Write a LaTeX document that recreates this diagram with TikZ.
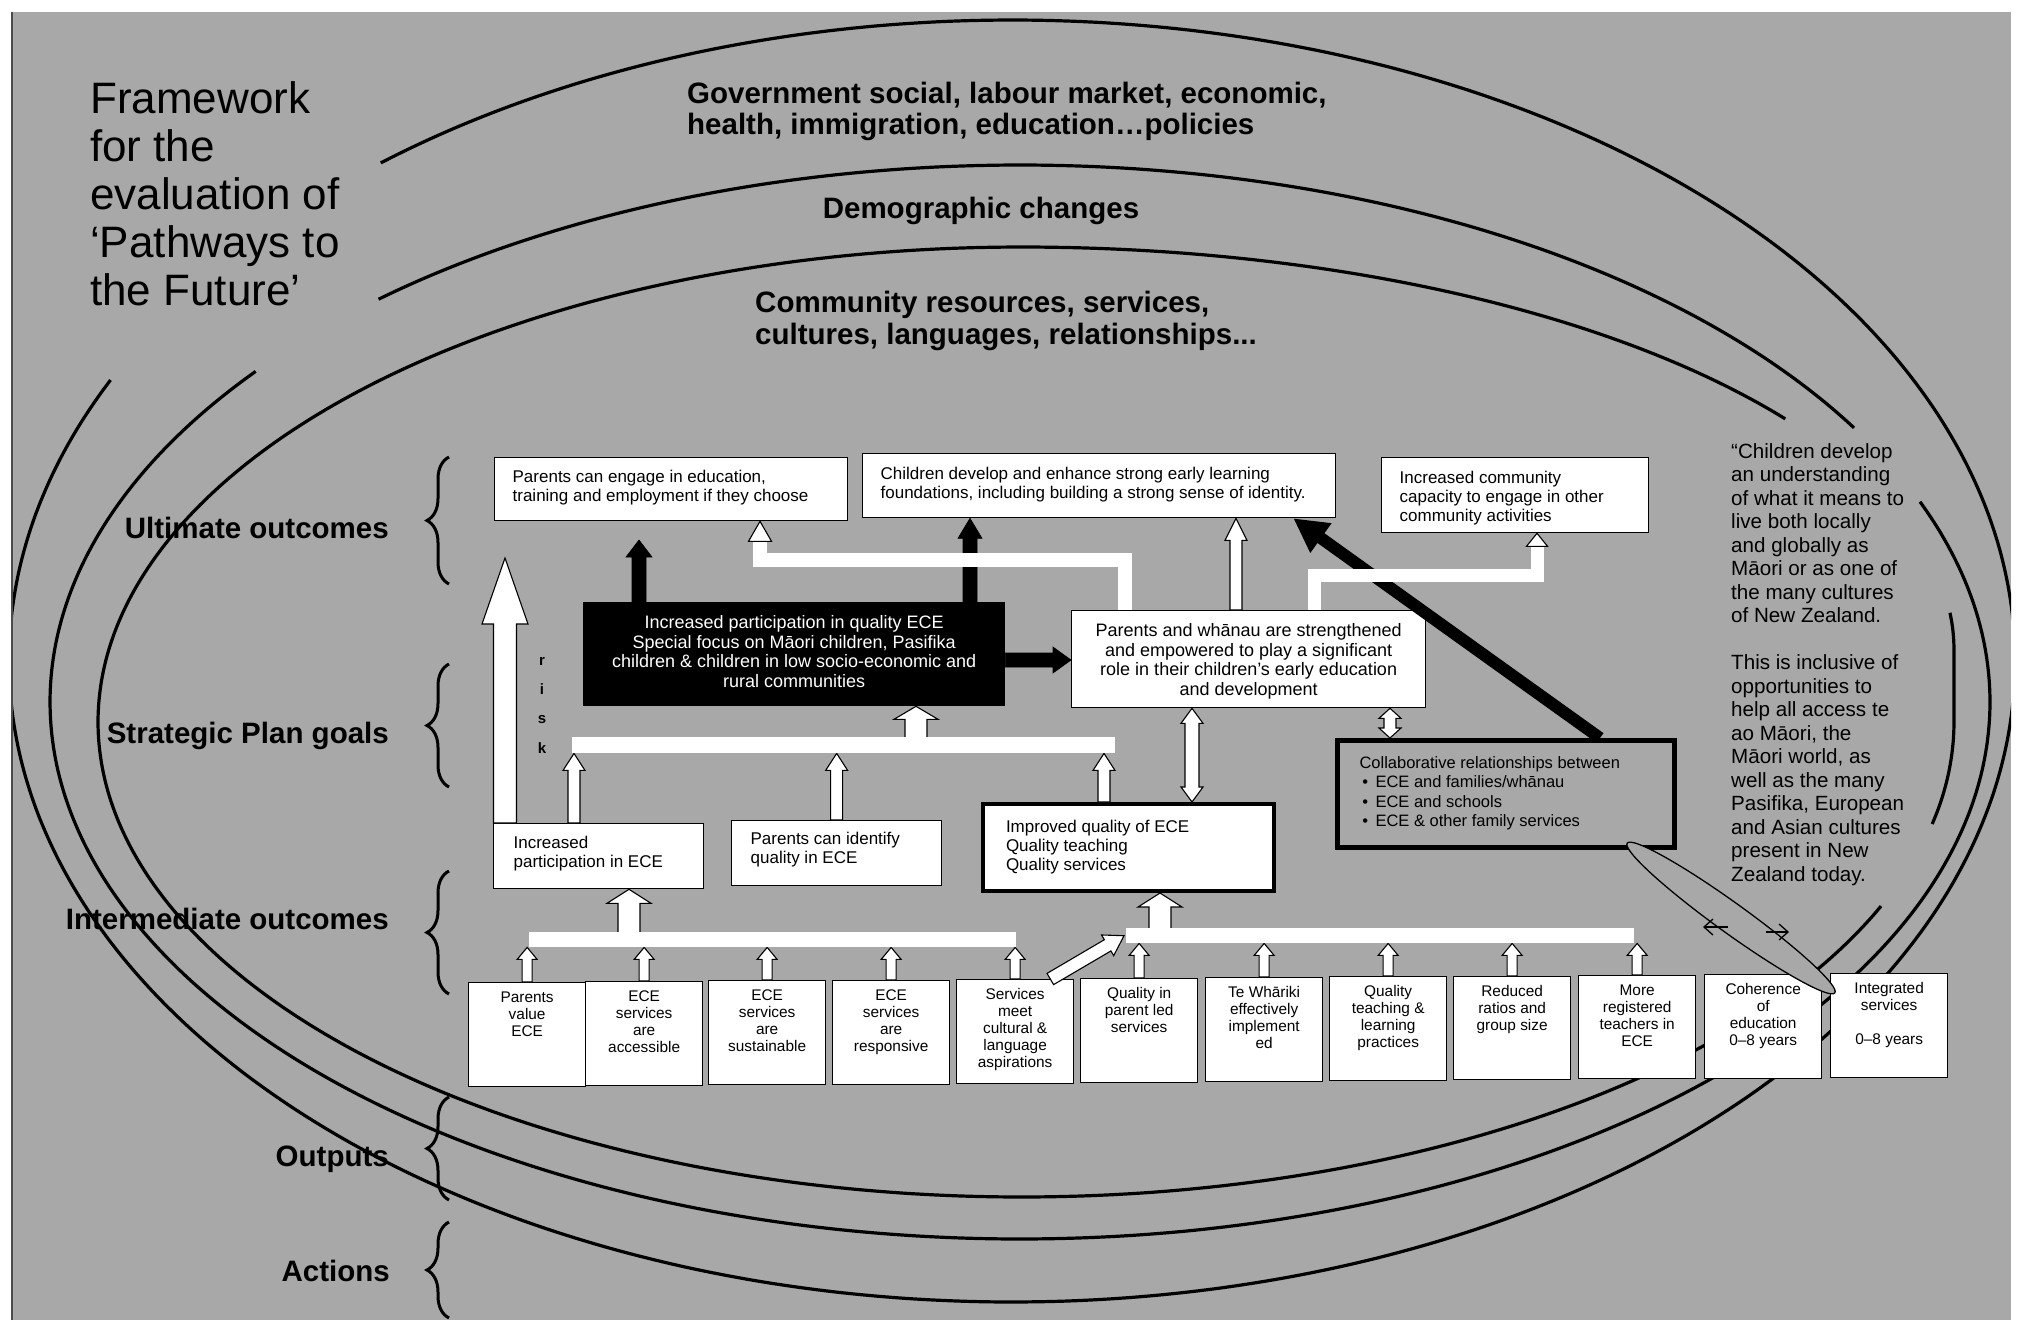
\documentclass[tikz,border=0pt]{standalone}
\usepackage{fontspec}
\setmainfont{Liberation Sans}
\usetikzlibrary{calc,decorations.pathreplacing,arrows.meta}
\definecolor{bg}{gray}{0.66}
\newcommand{\fsz}[2]{\fontsize{#1pt}{#2pt}\selectfont}
\newcommand{\blkarrow}[6]{%
  \path[#1] ($(#2)!#4!90:(#3)$) -- ($(#3)!#6!(#2)!#4!-90:(#2)$)
    -- ($(#3)!#6!(#2)!#5!-90:(#2)$) -- (#3)
    -- ($(#3)!#6!(#2)!#5!90:(#2)$) -- ($(#3)!#6!(#2)!#4!90:(#2)$)
    -- ($(#2)!#4!-90:(#3)$) -- cycle;}
\newcommand{\dblarrow}[6]{%
  \path[#1] (#2) -- ($(#2)!#6!(#3)!#5!90:(#3)$) -- ($(#2)!#6!(#3)!#4!90:(#3)$)
    -- ($(#3)!#6!(#2)!#4!-90:(#2)$) -- ($(#3)!#6!(#2)!#5!-90:(#2)$) -- (#3)
    -- ($(#3)!#6!(#2)!#5!90:(#2)$) -- ($(#3)!#6!(#2)!#4!90:(#2)$)
    -- ($(#2)!#6!(#3)!#4!-90:(#3)$) -- ($(#2)!#6!(#3)!#5!-90:(#3)$) -- cycle;}
\newcommand{\arrhead}[5]{%
  \path[#1] ($(#3)!#5!(#2)!#4!-90:(#2)$) -- (#3) -- ($(#3)!#5!(#2)!#4!90:(#2)$) -- cycle;}
\newcommand{\bxt}[5]{\parbox[c][#2][t]{#1}{\vspace*{#3}#4#5}}
\tikzset{
  ecurve/.style={line width=3.2pt, black},
  wbox/.style={draw=black, fill=white, line width=1.3pt, inner sep=0pt, anchor=north west},
  ufont/.style={font=\fsz{17}{19}},
  bfont/.style={font=\fsz{15.4}{17}},
  lab/.style={font=\bfseries\fsz{29.5}{32}, anchor=base east, inner sep=0pt},
  brc/.style={decorate, decoration={brace, amplitude=22pt}, line width=3pt},
  warr/.style={fill=white, draw=black, line width=1.1pt, line join=miter},
  barr/.style={fill=black, draw=black, line width=0.6pt, line join=miter},
  wbar/.style={fill=white, inner sep=0pt, anchor=north west},
  wline/.style={draw=white, line width=14pt, line join=miter},
  rk/.style={font=\bfseries\fsz{15}{15}, anchor=base, inner sep=0pt},
}
\begin{document}
\begin{tikzpicture}[x=1pt,y=-1pt]
\useasboundingbox (0,0) rectangle (2018,1320);
\fill[white] (0,0) rectangle (2018,1320);
\fill[bg] (11,12) rectangle (2011,1320);

% context ellipses
\begin{scope}
\clip (11,12) rectangle (2011,1320);
\draw[ecurve] plot[domain=231:566, samples=260, smooth] ({1012+1003*cos(\x)},{661+641*sin(\x)});
\draw[ecurve] plot[domain=228.6:329.3, samples=120, smooth] ({1020+970*cos(\x)},{702+537*sin(\x)});
\draw[ecurve] plot[domain=338.1:578, samples=220, smooth] ({1020+970*cos(\x)},{702+537*sin(\x)});
\draw[ecurve] plot[domain=90:270, samples=130, smooth] ({1021+923*cos(\x)},{722+475*sin(\x)})
  -- plot[domain=270:325, samples=50, smooth] ({1021+933*cos(\x)},{650+403*sin(\x)});
\draw[ecurve] plot[domain=354.7:360, samples=8, smooth] ({1021+933*cos(\x)},{650+403*sin(\x)})
  -- plot[domain=0:12.4, samples=12, smooth] ({1021+933*cos(\x)},{722+475*sin(\x)});
\draw[ecurve] plot[domain=22.8:90, samples=60, smooth] ({1021+933*cos(\x)},{722+475*sin(\x)});
\end{scope}
\draw[line width=1.5pt, black!70] (12,12) -- (12,1320);

% titles and context texts
\node[anchor=north west, inner sep=0pt, align=left, font=\fsz{44}{48}] (title) at (90,81)
  {Framework\\for the\\evaluation of\\‘Pathways to\\the Future’};
\node[anchor=north west, inner sep=0pt, align=left, font=\bfseries\fsz{29.5}{31}] (gov) at (687,82)
  {Government social, labour market, economic,\\health, immigration, education…policies};
\node[anchor=base, inner sep=0pt, font=\bfseries\fsz{29.5}{31}] (demo) at (981,218) {Demographic changes};
\node[anchor=north west, inner sep=0pt, align=left, font=\bfseries\fsz{29.5}{32}] (comm) at (755,291)
  {Community resources, services,\\cultures, languages, relationships...};
\node[anchor=north west, inner sep=0pt, align=left, font=\fsz{20.6}{23.5}] (quote) at (1731,443)
  {“Children develop\\an understanding\\of what it means to\\live both locally\\and globally as\\Māori or as one of\\the many cultures\\of New Zealand.\\[23.5pt]This is inclusive of\\opportunities to\\help all access te\\ao Māori, the\\Māori world, as\\well as the many\\Pasifika, European\\and Asian cultures\\present in New\\Zealand today.};

% level labels and braces
\node[lab] (l1) at (389,538) {Ultimate outcomes};
\node[lab] (l2) at (389,743) {Strategic Plan goals};
\node[lab] (l3) at (389,929) {Intermediate outcomes};
\node[lab] (l4) at (389,1166) {Outputs};
\node[lab] (l5) at (390,1281) {Actions};
\draw[brc] (449,584) -- (449,457);
\draw[brc] (449,787) -- (449,664);
\draw[brc] (449,994) -- (449,871);
\draw[brc] (449,1200) -- (449,1097);
\draw[brc] (449,1318) -- (449,1222);

% upper boxes
\node[wbox, ufont] (pe) at (494,457) {\bxt{353pt}{63pt}{13pt}{\raggedright\leftskip=18pt\relax}{Parents can engage in education,\\training and employment if they choose}};
\node[wbox, ufont] (cd) at (862,453) {\bxt{473pt}{64pt}{13.5pt}{\raggedright\leftskip=18pt\relax}{Children develop and enhance strong early learning\\foundations, including building a strong sense of identity.}};
\node[wbox, ufont] (ic) at (1381,457) {\bxt{267pt}{75pt}{13.5pt}{\raggedright\leftskip=18pt\relax}{Increased community\\capacity to engage in other\\community activities}};
\node[wbox, fill=black, text=white, font=\fsz{18}{19.5}] (bk) at (583,602) {\bxt{421pt}{103pt}{13pt}{\centering}{Increased participation in quality ECE\\Special focus on Māori children, Pasifika\\children \& children in low socio-economic and\\rural communities}};
\node[wbox, font=\fsz{18}{19.5}] (pw) at (1071,610) {\bxt{354pt}{97pt}{13pt}{\centering}{Parents and whānau are strengthened\\and empowered to play a significant\\role in their children’s early education\\and development}};
\node[wbox, ufont] (ip) at (493,823) {\bxt{210pt}{65pt}{12.5pt}{\raggedright\leftskip=20pt\relax}{Increased\\participation in ECE}};
\node[wbox, ufont] (pi) at (731,820) {\bxt{210pt}{65pt}{11.5pt}{\raggedright\leftskip=19pt\relax}{Parents can identify\\quality in ECE}};
\node[wbox, ufont, line width=4pt] (iq) at (981,802) {\bxt{291pt}{87pt}{16.5pt}{\raggedright\leftskip=23pt\relax}{Improved quality of ECE\\Quality teaching\\Quality services}};
\node[wbox, fill=none, line width=5pt, font=\fsz{16.5}{19.5}] (cr) at (1335,738) {\bxt{337pt}{107pt}{16pt}{\raggedright\leftskip=22pt\relax}{Collaborative relationships between\\\makebox[16pt][l]{\,•}ECE and families/whānau\\\makebox[16pt][l]{\,•}ECE and schools\\\makebox[16pt][l]{\,•}ECE \& other family services}};

% bottom boxes
\node[wbox, bfont] (b1) at (468,982) {\bxt{117pt}{104pt}{9pt}{\centering}{Parents\\value\\ECE}};
\node[wbox, bfont] (b2) at (585,981) {\bxt{117pt}{104pt}{9pt}{\centering}{ECE\\services\\are\\accessible}};
\node[wbox, bfont] (b3) at (708,980) {\bxt{117pt}{104pt}{9pt}{\centering}{ECE\\services\\are\\sustainable}};
\node[wbox, bfont] (b4) at (832,980) {\bxt{117pt}{104pt}{9pt}{\centering}{ECE\\services\\are\\responsive}};
\node[wbox, bfont] (b5) at (956,979) {\bxt{117pt}{104pt}{9pt}{\centering}{Services\\meet\\cultural \&\\language\\aspirations}};
\node[wbox, bfont] (b6) at (1080,978) {\bxt{117pt}{104pt}{9pt}{\centering}{Quality in\\parent led\\services}};
\node[wbox, bfont] (b7) at (1205,977) {\bxt{117pt}{104pt}{9pt}{\centering}{Te Whāriki\\effectively\\implement\\ed}};
\node[wbox, bfont] (b8) at (1329,976) {\bxt{117pt}{104pt}{9pt}{\centering}{Quality\\teaching \&\\learning\\practices}};
\node[wbox, bfont] (b9) at (1453,976) {\bxt{117pt}{103pt}{9pt}{\centering}{Reduced\\ratios and\\group size}};
\node[wbox, bfont] (b10) at (1578,975) {\bxt{117pt}{103pt}{9pt}{\centering}{More\\registered\\teachers in\\ECE}};
\node[wbox, bfont] (b11) at (1704,974) {\bxt{117pt}{104pt}{9pt}{\centering}{Coherence\\of\\education\\0–8 years}};
\node[wbox, bfont] (b12) at (1830,973) {\bxt{117pt}{104pt}{9pt}{\centering}{Integrated\\services\\\mbox{}\\0–8 years}};

% white bars
\node[wbar, minimum width=543pt, minimum height=16pt] (bar1) at (572,737) {};
\node[wbar, minimum width=487pt, minimum height=15pt] (bar2) at (529,932) {};
\node[wbar, minimum width=508pt, minimum height=15pt] (bar3) at (1126,928) {};

% risk
\node[rk] (rr) at (542,665) {r};
\node[rk] (ri) at (542,694) {i};
\node[rk] (rs) at (542,723) {s};
\node[rk] (rkk) at (542,753) {k};

% coordinates for connectors
\coordinate (k1a) at (639,0 |- bk.north); \coordinate (k1b) at (639,540);
\coordinate (k2a) at (970,0 |- bk.north); \coordinate (k2b) at (970,0 |- cd.south);
\coordinate (k3a) at (bk.east |- 0,660); \coordinate (k3b) at (pw.west |- 0,660);
\coordinate (w1a) at (1236,0 |- pw.north); \coordinate (w1b) at (1236,0 |- cd.south);
\coordinate (e1a) at (1125,0 |- pw.north); \coordinate (e1b) at (760,0 |- pe.south);
\coordinate (e2a) at (1314,0 |- pw.north); \coordinate (e2b) at (1537,0 |- ic.south);
\coordinate (g1a) at (916,0 |- bar1.center); \coordinate (g1b) at (916,0 |- bk.south);
\coordinate (g2a) at (574,0 |- ip.north); \coordinate (g2b) at (574,0 |- bar1.south);
\coordinate (g3a) at (pi.north); \coordinate (g3b) at (pi.north |- bar1.south);
\coordinate (g4a) at (1104,0 |- iq.north); \coordinate (g4b) at (1104,0 |- bar1.south);
\coordinate (rka) at (505,0 |- ip.north); \coordinate (rkb) at (505,558);
\coordinate (d1a) at (1192,0 |- pw.south); \coordinate (d1b) at (1192,0 |- iq.north);
\coordinate (d2a) at (1390,0 |- pw.south); \coordinate (d2b) at (1390,0 |- cr.north);
\coordinate (h1a) at (629,0 |- bar2.center); \coordinate (h1b) at (629,0 |- ip.south);
\coordinate (h2a) at (1160,0 |- bar3.center); \coordinate (h2b) at (1160,0 |- iq.south);
\coordinate (sla) at ($(b5.north east)+(-24,0)$); \coordinate (slb) at ($(bar3.west)+(-2,0)$);
\coordinate (bda) at (1600,0 |- cr.north); \coordinate (bdb) at ($(cd.south east)+(-43,0)$);

% black arrows
\blkarrow{barr}{k1a}{k1b}{7pt}{13pt}{17pt}
\blkarrow{barr}{k2a}{k2b}{7pt}{12pt}{20pt}
\blkarrow{barr}{k3a}{k3b}{7pt}{13pt}{18pt}
\draw[line width=12pt, -{Triangle[length=34pt,width=34pt]}] (bda) -- (bdb);

% white arrows
\blkarrow{warr}{w1a}{w1b}{6pt}{11pt}{22pt}
\draw[wline] (e1a) -- (1125,560) -- (760,560) -- ($(e1b)+(0,20)$);
\arrhead{warr}{760,560}{e1b}{11.5pt}{20pt}
\draw[wline, line width=13pt] (e2a) -- (1314,575) -- (1537,575) -- ($(e2b)+(0,13)$);
\arrhead{warr}{1537,575}{e2b}{10.5pt}{13pt}
\blkarrow{warr}{g2a}{g2b}{6pt}{11pt}{17pt}
\blkarrow{warr}{g3a}{g3b}{6pt}{11pt}{17pt}
\blkarrow{warr}{g4a}{g4b}{6pt}{11pt}{17pt}
\blkarrow{warr}{rka}{rkb}{11.5pt}{23pt}{66pt}
\dblarrow{warr}{d1a}{d1b}{7pt}{11pt}{15pt}
\dblarrow{warr}{d2a}{d2b}{6pt}{11pt}{10pt}
\foreach \b in {b1,b2,b3,b4,b5}{
  \coordinate (t-\b) at (\b.north |- bar2.south);
  \blkarrow{warr}{\b.north}{t-\b}{5pt}{10pt}{12pt}
}
\foreach \b in {b6,b7,b8,b9,b10}{
  \coordinate (t-\b) at (\b.north |- bar3.south);
  \blkarrow{warr}{\b.north}{t-\b}{5pt}{10pt}{12pt}
}
\blkarrow{warr}{sla}{slb}{6.5pt}{12pt}{19pt}
\blkarrow{warr}{g1a}{g1b}{11pt}{22pt}{13pt}
\blkarrow{warr}{h1a}{h1b}{11pt}{22pt}{14pt}
\blkarrow{warr}{h2a}{h2b}{11pt}{22pt}{14pt}

% redraw bars over arrow bases
\fill[white] (bar1.north west) rectangle (bar1.south east);
\fill[white] (bar2.north west) rectangle (bar2.south east);
\fill[white] (bar3.north west) rectangle (bar3.south east);

% lens with circulation arrows
\draw[line width=1.3pt, fill=bg, rotate around={-35.8:(1731,918)}] (1731,918) ellipse [x radius=128pt, y radius=15pt];
\coordinate (la) at (1728,927); \coordinate (lb) at (1703,927);
\coordinate (lc) at (1766,932); \coordinate (ld) at (1789,932);
\draw[line width=1.3pt, -{Straight Barb[length=9pt,width=16pt]}] (la) -- (lb);
\draw[line width=1.3pt, -{Straight Barb[length=9pt,width=16pt]}] (lc) -- (ld);
\end{tikzpicture}
\end{document}
